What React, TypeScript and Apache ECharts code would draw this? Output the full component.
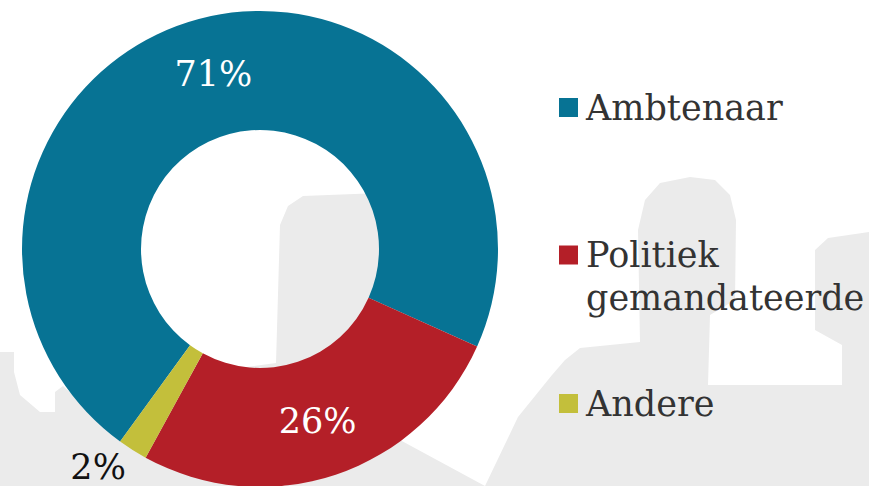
import React, { useEffect, useRef } from "react";
import * as echarts from "echarts";

const categories = ["Ambtenaar", "Politiek gemandateerde", "Andere"];
const legendLabels = ["Ambtenaar", "\nPolitiek\ngemandateerde", "Andere"];
const values = [71, 26, 2];
const colors = ["#077394", "#b41f28", "#c3bf3b"];

const FONT = "'DejaVu Serif', serif";
const BG_GRAY = "#ebebeb";

export default function App() {
  const ref = useRef<HTMLDivElement>(null);

  useEffect(() => {
    if (!ref.current) return;
    const chart = echarts.init(ref.current, undefined, { renderer: "svg" });

    const legendBase = {
      orient: "vertical",
      left: 559,
      padding: 0,
      icon: "rect",
      itemWidth: 19,
      itemHeight: 19,
      selectedMode: false,
      textStyle: {
        fontFamily: FONT,
        fontSize: 35,
        color: "#333333",
        lineHeight: 43,
        padding: [0, 0, 0, 3],
      },
    };

    const option = {
      animation: false,
      backgroundColor: "#ffffff",
      graphic: [
        {
          type: "polygon",
          z: 0,
          silent: true,
          shape: {
            points: [
              [0, 486],
              [0, 352],
              [14, 352],
              [14, 372],
              [20, 395],
              [40, 412],
              [55, 412],
              [55, 392],
              [63, 386],
              [100, 420],
              [150, 380],
              [276, 363],
              [280, 225],
              [288, 206],
              [303, 196],
              [380, 193],
              [420, 300],
              [400, 440],
              [485, 486],
              [518, 417],
              [552, 375],
              [565, 360],
              [580, 348],
              [640, 342],
              [638, 230],
              [645, 200],
              [660, 183],
              [690, 177],
              [715, 180],
              [730, 195],
              [736, 220],
              [735, 300],
              [710, 315],
              [708, 385],
              [842, 385],
              [842, 345],
              [815, 330],
              [815, 250],
              [828, 238],
              [869, 232],
              [869, 486],
            ],
          },
          style: { fill: BG_GRAY },
        },
      ],
      legend: [
        { ...legendBase, top: 86, data: [categories[0]] },
        {
          ...legendBase,
          top: 190.5,
          data: [categories[1]],
          formatter: () => legendLabels[1],
        },
        { ...legendBase, top: 382, data: [categories[2]] },
      ],
      series: [
        {
          type: "pie",
          z: 2,
          center: [260, 249],
          radius: [119, 238],
          startAngle: 234,
          clockwise: true,
          avoidLabelOverlap: false,
          silent: true,
          label: {
            show: true,
            position: "inside",
            formatter: "{c}%",
            fontFamily: FONT,
            fontSize: 35,
            color: "#ffffff",
          },
          labelLine: { show: false },
          data: categories.map((name, i) => {
            const item: any = {
              name,
              value: values[i],
              itemStyle: { color: colors[i] },
            };
            if (i === 2) {
              item.label = {
                position: "outside",
                color: "#111111",
                fontFamily: FONT,
                fontSize: 35,
                lineHeight: 35,
                distanceToLabelLine: -4,
              };
              item.labelLine = { show: false, length: 20, length2: 0 };
            }
            return item;
          }),
        },
      ],
    };

    chart.setOption(option as any);
    return () => chart.dispose();
  }, []);

  return (
    <div
      ref={ref}
      style={{ position: "absolute", left: 0, top: 0, width: 869, height: 486 }}
    />
  );
}
